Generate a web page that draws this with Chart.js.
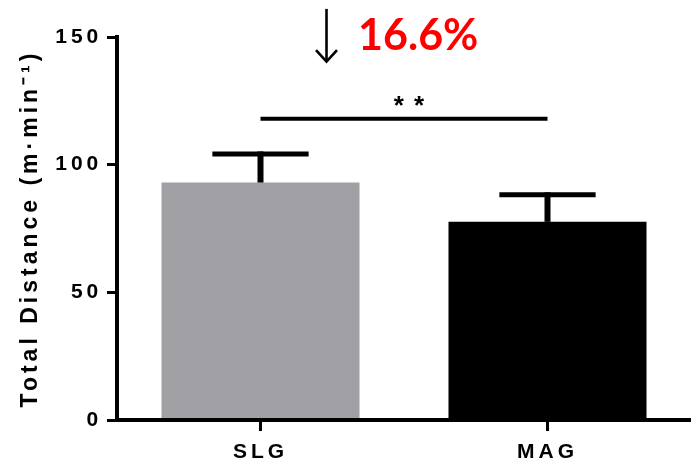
<!DOCTYPE html>
<html>
<head>
<meta charset="utf-8">
<script src="https://cdn.jsdelivr.net/npm/chart.js@4/dist/chart.umd.min.js"></script>
<style>
  html, body { margin: 0; padding: 0; background: #fff; }
  canvas { display: block; }
</style>
</head>
<body>
<canvas id="c" width="691" height="467"></canvas>
<script>
// Groups and mean total distance (m·min⁻¹) with SD
const groups = ['SLG', 'MAG'];
const meanDistance = [93.0, 77.6];
const sdDistance = [11.2, 10.6];
const yTicks = [0, 50, 100, 150];
const sigMark = '* *';
const sigLevel = 118;          // height of the comparison bar (axis units)

const barColors = ['#a1a0a5', '#000000'];
const dropPct = ((1 - meanDistance[1] / meanDistance[0]) * 100).toFixed(1) + '%';

function seg(ctx, x1, y1, x2, y2) {
  ctx.beginPath();
  ctx.moveTo(x1, y1);
  ctx.lineTo(x2, y2);
  ctx.stroke();
}

// Error bars, significance bracket and the percentage-change note
const overlay = {
  id: 'overlay',
  beforeDraw(chart) {
    chart.ctx.letterSpacing = '4px';
  },
  afterDatasetsDraw(chart) {
    const { ctx, scales: { x, y } } = chart;
    const bars = chart.getDatasetMeta(0).data;
    ctx.save();
    ctx.letterSpacing = '0px';
    ctx.strokeStyle = '#000';
    ctx.lineCap = 'butt';

    meanDistance.forEach((m, i) => {
      const px = x.getPixelForValue(i);
      const base = y.getPixelForValue(m);
      const top = y.getPixelForValue(m + sdDistance[i]);
      const half = bars[i].width * 0.243;
      ctx.lineWidth = 6;
      seg(ctx, px, base, px, top - 2.5);
      ctx.lineWidth = 5;
      seg(ctx, px - half, top, px + half, top);
    });

    // comparison bar between the two groups
    const sy = y.getPixelForValue(sigLevel);
    ctx.lineWidth = 4;
    seg(ctx, x.getPixelForValue(0), sy, x.getPixelForValue(1), sy);
    ctx.fillStyle = '#000';
    ctx.font = 'bold 26px "Liberation Sans", Arial, sans-serif';
    ctx.letterSpacing = '1.5px';
    ctx.textAlign = 'center';
    ctx.textBaseline = 'alphabetic';
    ctx.fillText(sigMark, x.getPixelForValue(0.52), y.getPixelForValue(119.9));
    ctx.letterSpacing = '0px';

    // downward arrow
    const ax = x.getPixelForValue(0.23);
    const aTop = y.getPixelForValue(161);
    const aTip = y.getPixelForValue(140.4);
    const aWing = y.getPixelForValue(144.9);
    ctx.lineWidth = 2.6;
    seg(ctx, ax, aTop, ax, aTip - 1);
    ctx.lineJoin = 'miter';
    ctx.beginPath();
    ctx.moveTo(ax - 10.5, aWing);
    ctx.lineTo(ax, aTip);
    ctx.lineTo(ax + 10.5, aWing);
    ctx.stroke();

    // percentage change
    ctx.fillStyle = '#ff0000';
    ctx.font = 'bold 43px Lato, "Open Sans", sans-serif';
    ctx.textAlign = 'left';
    ctx.fillText(dropPct, x.getPixelForValue(0.34), y.getPixelForValue(145.1));
    ctx.restore();
  },
  afterDraw(chart) {
    chart.ctx.letterSpacing = '0px';
  }
};

const axisFont = { family: '"Liberation Sans", Arial, sans-serif', size: 21, weight: 'bold' };

new Chart(document.getElementById('c'), {
  type: 'bar',
  data: {
    labels: groups,
    datasets: [{
      data: meanDistance,
      backgroundColor: barColors,
      borderWidth: 0,
      barPercentage: 0.69,
      categoryPercentage: 1.0
    }]
  },
  options: {
    responsive: false,
    animation: false,
    events: [],
    layout: { padding: { top: 37, right: 0, bottom: 0, left: 0 } },
    plugins: {
      legend: { display: false },
      tooltip: { enabled: false }
    },
    scales: {
      x: {
        grid: {
          display: true,
          drawOnChartArea: false,
          drawTicks: true,
          offset: false,
          tickLength: 11,
          lineWidth: 3,
          color: '#000'
        },
        border: { display: true, width: 4, color: '#000', z: 1 },
        ticks: { color: '#000', padding: 9, font: axisFont },
        afterFit(s) { s.height = 47; }
      },
      y: {
        min: 0,
        max: 150,
        afterBuildTicks(s) { s.ticks = yTicks.map(v => ({ value: v })); },
        grid: {
          display: true,
          drawOnChartArea: false,
          drawTicks: true,
          tickLength: 10,
          lineWidth: 3,
          color: '#000'
        },
        border: { display: true, width: 4, color: '#000', z: 1 },
        ticks: { color: '#000', padding: 4.7, font: axisFont },
        title: {
          display: true,
          text: 'Total Distance (m·min⁻¹)',
          color: '#000',
          padding: { top: 16.5, bottom: 0 },
          font: { family: '"Liberation Sans", Arial, sans-serif', size: 23, weight: 'bold' }
        },
        afterFit(s) { s.width = 117; }
      }
    }
  },
  plugins: [overlay]
});
</script>
</body>
</html>
